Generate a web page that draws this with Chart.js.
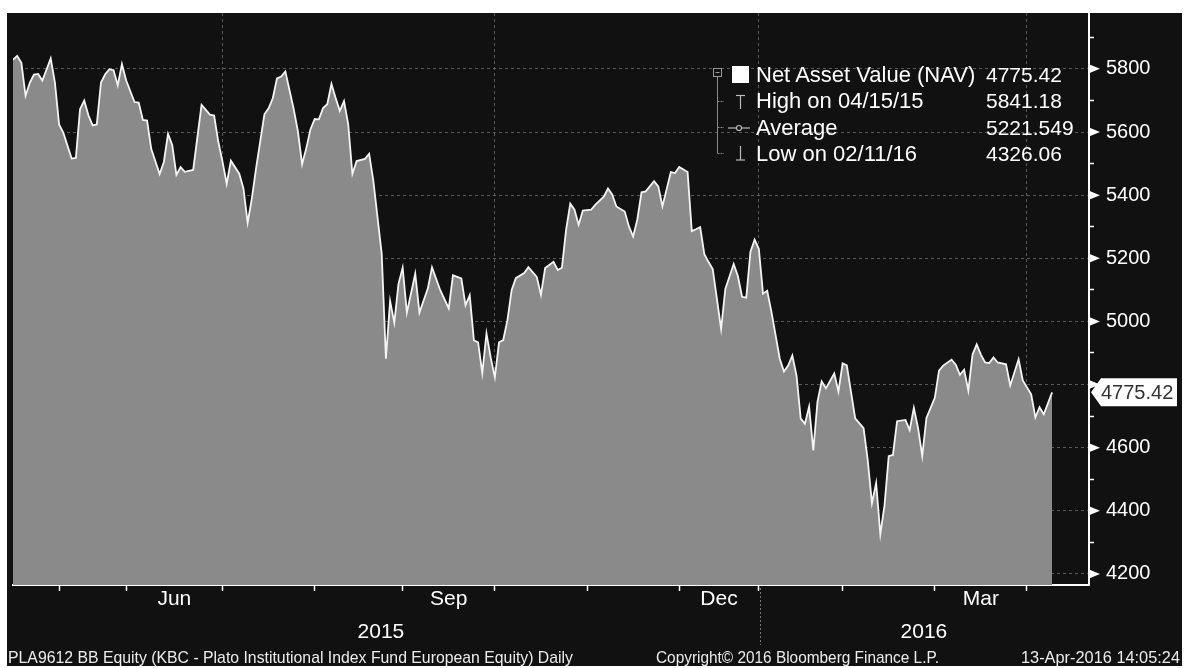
<!DOCTYPE html>
<html>
<head>
<meta charset="utf-8">
<script src="https://cdn.jsdelivr.net/npm/chart.js@4.4.1/dist/chart.umd.min.js"></script>
<style>
html,body{margin:0;padding:0;background:#fff;width:1194px;height:668px;overflow:hidden;}
#box{position:absolute;left:7px;top:13px;width:1175px;height:653px;background:#111;}
#box canvas{position:absolute;left:0;top:0;}
.t{position:absolute;font-family:"Liberation Sans",Arial,sans-serif;color:#fff;white-space:nowrap;}
.lg{font-size:22px;line-height:26px;height:26px;}
.lv{font-size:21px;line-height:26px;height:26px;}
.ft{font-size:17px;line-height:17px;color:#ececec;transform-origin:0 50%;}
#icons{position:absolute;left:700px;top:45px;}
</style>
</head>
<body>
<div id="box">
  <canvas id="c" width="1175" height="653"></canvas>
  <svg id="icons" width="50" height="115" viewBox="0 0 50 115">
    <rect x="6.5" y="10.5" width="8" height="8" fill="none" stroke="#999" stroke-width="1"/>
    <line x1="8.5" y1="14.5" x2="12.5" y2="14.5" stroke="#999" stroke-width="1"/>
    <line x1="10.5" y1="19" x2="10.5" y2="95.5" stroke="#888" stroke-width="1"/>
    <line x1="10.5" y1="43.5" x2="17" y2="43.5" stroke="#888" stroke-width="1" stroke-dasharray="2,1"/>
    <line x1="10.5" y1="69.5" x2="17" y2="69.5" stroke="#888" stroke-width="1" stroke-dasharray="2,1"/>
    <line x1="10.5" y1="95.5" x2="17" y2="95.5" stroke="#888" stroke-width="1" stroke-dasharray="2,1"/>
    <rect x="25" y="8" width="17" height="17" fill="#fff"/>
    <line x1="29" y1="37.5" x2="38" y2="37.5" stroke="#bbb" stroke-width="1.2"/>
    <line x1="33.5" y1="37.5" x2="33.5" y2="51" stroke="#bbb" stroke-width="1.2"/>
    <line x1="21" y1="70" x2="43" y2="70" stroke="#bbb" stroke-width="1.2"/>
    <circle cx="32" cy="70" r="2.5" fill="#111" stroke="#bbb" stroke-width="1.2"/>
    <line x1="33.5" y1="88" x2="33.5" y2="102" stroke="#bbb" stroke-width="1.2"/>
    <line x1="29" y1="102" x2="38" y2="102" stroke="#bbb" stroke-width="1.2"/>
  </svg>
  <div id="legend"></div>
  <div id="footer"></div>
</div>
<script>
// ---- data (trading-day index from 14-Apr-2015, NAV) ----
const navDays = [0,1,2,3,4,5,6,7,8,9,10,11,12,14,15,16,17,18,19,20,21,22,23,24,25,26,27,29,30,31,32,33,35,36,37,38,39,40,41,43,45,47,48,49,50,51,52,54,55,56,57,58,60,61,62,63,64,65,67,68,69,70,71,72,73,74,75,76,77,78,79,80,81,82,84,85,86,88,89,90,91,92,93,94,96,97,99,100,102,104,105,107,108,109,110,111,112,113,114,115,116,117,118,119,120,122,123,125,126,127,129,130,131,132,133,134,135,136,138,139,141,142,143,144,146,147,148,149,150,151,153,154,155,156,157,158,159,161,162,163,164,165,166,167,169,170,172,173,174,175,176,177,178,179,180,181,183,184,185,186,187,188,189,190,191,192,193,194,196,197,198,199,201,203,204,205,206,207,208,209,210,211,213,214,215,216,217,218,220,221,222,224,225,226,227,228,229,230,231,232,233,234,235,237,238,240,241,243,244,245,246,248];
const navValues = [5829,5841.18,5819,5715,5756,5782,5784,5763,5798,5833,5757,5624,5598,5516,5518,5672,5700,5653,5621,5624,5757,5783,5799,5796,5748,5815,5764,5695,5693,5638,5636,5546,5467,5505,5594,5559,5464,5489,5474,5480,5686,5655,5652,5569,5506,5436,5509,5468,5421,5313,5389,5484,5656,5675,5707,5770,5776,5792,5672,5602,5498,5549,5609,5641,5640,5676,5688,5752,5708,5667,5698,5625,5467,5508,5515,5531,5445,5214,4882,5065,4996,5119,5170,5028,5151,5028,5104,5171,5098,5041,5146,5136,5051,5083,4940,4934,4836,4962,4886,4823,4934,4941,5004,5099,5137,5153,5172,5141,5084,5169,5189,5163,5170,5290,5373,5354,5306,5351,5354,5370,5395,5421,5402,5364,5348,5301,5269,5323,5409,5412,5444,5428,5365,5419,5473,5470,5489,5473,5286,5292,5299,5213,5188,5166,4976,5103,5182,5144,5078,5075,5221,5259,5230,5088,5097,5031,4882,4841,4860,4892,4828,4692,4676,4730,4591,4746,4810,4788,4835,4778,4867,4861,4693,4662,4560,4424,4488,4326.06,4418,4573,4577,4684,4688,4656,4726,4663,4574,4694,4758,4844,4860,4879,4863,4831,4847,4781,4895,4927,4895,4870,4868,4886,4870,4864,4797,4880,4813,4769,4696,4728,4706,4775.42];

// ---- axes ----
const monthTickDays = [11,27,50,72,93,115,137,159,178,198,220,242];
const quarterGridDays = [50,115,178,242];
const monthLabelDays = [38.5,104,168.5,231];
const monthLabels = ['Jun','Sep','Dec','Mar'];
const yearLabelDays = [87.8,217.4];
const yearLabels = ['2015','2016'];
const yearDividerDay = 178.3;
const yMajorTicks = [4200,4400,4600,4800,5000,5200,5400,5600,5800];
const yMinorTicks = [4300,4500,4700,4900,5100,5300,5500,5700,5900];
const yLabelsHidden = [4800]; // covered by the last-value tag
const xRange = [0,256.8];
const yRange = [4165,5977];

// ---- legend & footer text ----
const legendLabels = ['Net Asset Value (NAV)','High on 04/15/15','Average','Low on 02/11/16'];
const legendValues = ['4775.42','5841.18','5221.549','4326.06'];
const footerTexts = ['PLA9612 BB Equity (KBC - Plato Institutional Index Fund European Equity)  Daily','Copyright\u00A9 2016 Bloomberg Finance L.P.','13-Apr-2016 14:05:24'];

const FONT = '"Liberation Sans", Arial, sans-serif';

// legend
const lg = document.getElementById('legend');
legendLabels.forEach((txt,i)=>{
  const top = 49 + i*26.3;
  const a = document.createElement('div'); a.className='t lg'; a.style.left='749px'; a.style.top=top+'px'; a.textContent=txt; lg.appendChild(a);
  const b = document.createElement('div'); b.className='t lv'; b.style.left='979px'; b.style.top=top+'px'; b.textContent=legendValues[i]; lg.appendChild(b);
});
// footer
const ft = document.getElementById('footer');
const footPos = [[1,565],[649,283],[1014,159]];
footerTexts.forEach((txt,i)=>{
  const d = document.createElement('div'); d.className='t ft'; d.style.left=footPos[i][0]+'px'; d.style.top='636px'; d.textContent=txt; ft.appendChild(d);
  const w = d.getBoundingClientRect().width;
  d.style.transform = 'scaleX(' + (footPos[i][1]/w) + ')';
});

const noPad = s => { s.paddingTop = 0; s.paddingBottom = 0; s.paddingLeft = 0; s.paddingRight = 0; };

const decor = {
  id:'decor',
  afterDraw(chart){
    const {ctx, chartArea, scales} = chart;
    const y = scales.y, x = scales.x;
    ctx.save();
    ctx.fillStyle = '#fff';
    yMajorTicks.forEach(v=>{
      const py = y.getPixelForValue(v);
      ctx.beginPath();
      ctx.moveTo(chartArea.right, py-4.5);
      ctx.lineTo(chartArea.right+11, py);
      ctx.lineTo(chartArea.right, py+4.5);
      ctx.closePath(); ctx.fill();
    });
    const dx = Math.round(x.getPixelForValue(yearDividerDay))+0.5;
    ctx.strokeStyle = '#777'; ctx.lineWidth = 1; ctx.setLineDash([2,2]);
    ctx.beginPath(); ctx.moveTo(dx, chartArea.bottom+3); ctx.lineTo(dx, chartArea.bottom+60); ctx.stroke();
    ctx.setLineDash([]);
    const lv = navValues[navValues.length-1];
    const ty = y.getPixelForValue(lv);
    const left = chartArea.right+2, right = chart.width-5, h = 28;
    ctx.fillStyle = '#fff';
    ctx.beginPath();
    ctx.moveTo(left, ty); ctx.lineTo(left+10, ty-h/2); ctx.lineTo(right, ty-h/2);
    ctx.lineTo(right, ty+h/2); ctx.lineTo(left+10, ty+h/2); ctx.closePath(); ctx.fill();
    ctx.fillStyle = '#333'; ctx.font = '20px ' + FONT; ctx.textBaseline='middle'; ctx.textAlign='left';
    ctx.fillText(lv.toFixed(2), left+10, ty+1);
    ctx.restore();
  }
};

new Chart(document.getElementById('c'), {
  type:'line',
  data:{ datasets:[{
    data: navDays.map((d,i)=>({x:d, y:navValues[i]})),
    borderColor:'#f4f4f4', borderWidth:1.8, backgroundColor:'#8a8a8a',
    fill:'start', pointRadius:0, tension:0
  }]},
  options:{
    responsive:false, animation:false,
    layout:{autoPadding:false, padding:{left:6, top:0, right:0, bottom:22}},
    plugins:{legend:{display:false}, tooltip:{enabled:false}},
    scales:{
      x:{ type:'linear', position:'bottom', weight:0, min:xRange[0], max:xRange[1],
        afterBuildTicks:s=>{ s.ticks = monthTickDays.map(v=>({value:v})); },
        afterFit:s=>{ s.height = 2; noPad(s); },
        ticks:{display:false},
        grid:{ drawOnChartArea:true, drawTicks:true, tickLength:6, tickWidth:1.5, tickColor:'#fff', lineWidth:1,
          color:c=> (c.tick && quarterGridDays.includes(c.tick.value)) ? 'rgba(150,150,150,0.55)' : 'rgba(0,0,0,0)' },
        border:{display:true, color:'#fff', width:2, dash:[3,3]}
      },
      x2:{ type:'linear', position:'bottom', weight:1, min:xRange[0], max:xRange[1],
        afterBuildTicks:s=>{ s.ticks = monthLabelDays.map(v=>({value:v})); },
        afterFit:s=>{ s.height = 33; noPad(s); },
        ticks:{ autoSkip:false, maxRotation:0, padding:0, color:'#fff', font:{family:FONT, size:21}, callback:(v,i)=>monthLabels[i] },
        grid:{display:false, drawTicks:false}, border:{display:false}
      },
      x3:{ type:'linear', position:'bottom', weight:2, min:xRange[0], max:xRange[1],
        afterBuildTicks:s=>{ s.ticks = yearLabelDays.map(v=>({value:v})); },
        afterFit:s=>{ s.height = 24; noPad(s); },
        ticks:{ autoSkip:false, maxRotation:0, padding:0, color:'#fff', font:{family:FONT, size:21}, callback:(v,i)=>yearLabels[i] },
        grid:{display:false, drawTicks:false}, border:{display:false}
      },
      y:{ type:'linear', position:'right', min:yRange[0], max:yRange[1],
        afterBuildTicks:s=>{ s.ticks = yMajorTicks.concat(yMinorTicks).sort((a,b)=>a-b).map(v=>({value:v})); },
        afterFit:s=>{ s.width = 93; noPad(s); },
        ticks:{ autoSkip:false, padding:12, color:'#fff', font:{family:FONT, size:20},
          callback:v=> (yMajorTicks.includes(v) && !yLabelsHidden.includes(v)) ? String(v) : '' },
        grid:{ drawOnChartArea:true, drawTicks:true, tickLength:5, tickWidth:1.5, lineWidth:1,
          tickColor:c=> (c.tick && yMinorTicks.includes(c.tick.value)) ? '#fff' : 'rgba(0,0,0,0)',
          color:c=> (c.tick && yMajorTicks.includes(c.tick.value)) ? 'rgba(150,150,150,0.55)' : 'rgba(0,0,0,0)' },
        border:{display:true, color:'#fff', width:2, dash:[3,3]}
      }
    }
  },
  plugins:[decor]
});
</script>
</body>
</html>
